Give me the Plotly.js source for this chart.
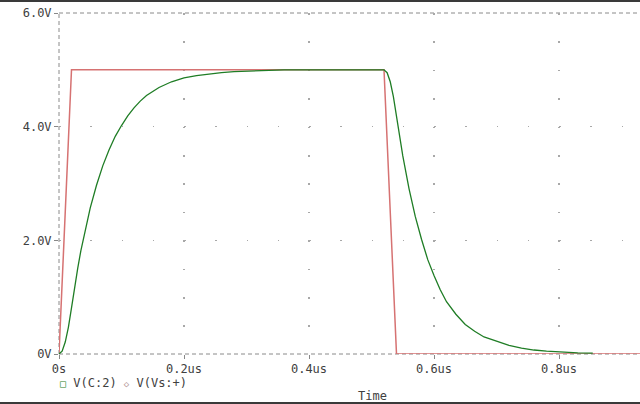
<!DOCTYPE html>
<html>
<head>
<meta charset="utf-8">
<script src="https://cdn.plot.ly/plotly-3.0.1.min.js"></script>
<style>
  html, body { margin: 0; padding: 0; background: #fff; }
  #wrap { position: relative; width: 640px; height: 404px; overflow: hidden; }
  #chart { width: 640px; height: 404px; }
  .bar { position: absolute; left: 0; width: 640px; height: 2px; background: #3a3a3a; }
</style>
</head>
<body>
<div id="wrap">
  <div id="chart"></div>
  <div class="bar" style="top:0"></div>
  <div class="bar" style="top:402px"></div>
</div>
<script>
// Time in microseconds
var tCap = [0, 0.005, 0.01, 0.015, 0.02, 0.025, 0.03, 0.035, 0.04, 0.05, 0.06, 0.07, 0.08, 0.09, 0.10,
            0.11, 0.12, 0.13, 0.14, 0.15, 0.16, 0.18, 0.20, 0.22, 0.24, 0.26, 0.28, 0.32, 0.36, 0.40,
            0.52, 0.525, 0.53, 0.535, 0.54, 0.545, 0.55, 0.56, 0.57, 0.58, 0.59, 0.60, 0.61, 0.62,
            0.635, 0.65, 0.665, 0.68, 0.70, 0.72, 0.74, 0.76, 0.78, 0.80, 0.83, 0.854];
var vCap = [0, 0.05, 0.21, 0.47, 0.81, 1.18, 1.51, 1.82, 2.09, 2.57, 2.97, 3.31, 3.59, 3.83, 4.02,
            4.19, 4.33, 4.45, 4.55, 4.62, 4.69, 4.79, 4.86, 4.90, 4.93, 4.95, 4.97, 4.99, 5.0, 5.0,
            5.0, 4.95, 4.79, 4.53, 4.19, 3.83, 3.49, 2.91, 2.42, 2.02, 1.66, 1.38, 1.13, 0.92,
            0.70, 0.52, 0.40, 0.30, 0.22, 0.15, 0.105, 0.07, 0.05, 0.035, 0.02, 0.014];

var tSrc = [0, 0.02, 0.52, 0.54, 1.0];
var vSrc = [0, 5, 5, 0, 0];

var xTickVals = [0, 0.2, 0.4, 0.6, 0.8];
var xTickText = ["0s", "0.2us", "0.4us", "0.6us", "0.8us"];
var yTickVals = [0, 2, 4, 6];
var yTickText = ["0V", "2.0V", "4.0V", "6.0V"];

var legendNames = ["V(C:2)", "V(Vs:+)"];
var xTitle = "Time";

var red = "#d67272";
var green = "#1f7d25";
var font = "DejaVu Sans Mono, Liberation Mono, monospace";
var txt = "#404040";

var traces = [
  { x: tSrc, y: vSrc, mode: "lines", line: { color: red, width: 1.5 }, name: legendNames[1], showlegend: false, hoverinfo: "skip" },
  { x: tCap, y: vCap, mode: "lines", line: { color: green, width: 1.3 }, name: legendNames[0], showlegend: false, hoverinfo: "skip" }
];

var dashAxis = { color: "#8a8a8a", width: 1, dash: "4px,3px" };

var layout = {
  width: 640, height: 404,
  margin: { l: 59, r: 0, t: 13, b: 50 },
  paper_bgcolor: "#fff", plot_bgcolor: "#fff",
  font: { family: font, size: 12, color: txt },
  xaxis: {
    range: [0, 0.9296],
    tickvals: xTickVals, ticktext: xTickText,
    ticks: "outside", ticklen: 4, tickcolor: "#888", tickwidth: 1,
    showline: false, zeroline: false,
    showgrid: true, gridcolor: "#a8a8a8", gridwidth: 1.5, griddash: "1.5px,26.9px",
    tickfont: { family: font, size: 12, color: txt }
  },
  yaxis: {
    range: [0, 6],
    tickvals: yTickVals, ticktext: yTickText,
    ticks: "outside", ticklen: 4, tickcolor: "#888", tickwidth: 1,
    showline: false, zeroline: false,
    showgrid: true, gridcolor: "#a8a8a8", gridwidth: 1.5, griddash: "1.5px,29.75px",
    tickfont: { family: font, size: 12, color: txt }
  },
  shapes: [
    { type: "line", xref: "paper", yref: "paper", x0: 0, x1: 0, y0: 0, y1: 1, line: dashAxis, layer: "below" },
    { type: "line", xref: "paper", yref: "paper", x0: 0, x1: 1, y0: 0, y1: 0, line: dashAxis, layer: "below" },
    { type: "line", xref: "paper", yref: "paper", x0: 0, x1: 1, y0: 1, y1: 1, line: dashAxis, layer: "below" }
  ],
  annotations: [
    { xref: "paper", yref: "paper", x: (372 - 59) / 581, y: (354 - 396) / 341, xanchor: "center", yanchor: "middle",
      text: xTitle, showarrow: false, font: { family: font, size: 12, color: txt } },
    { xref: "paper", yref: "paper", x: (58 - 59) / 581, y: (354 - 383) / 341, xanchor: "left", yanchor: "middle",
      text: '<span style="color:' + green + ';font-size:10px">□</span> ' + legendNames[0] +
            ' <span style="color:#b09090;font-size:9px">◇</span> ' + legendNames[1],
      showarrow: false, font: { family: font, size: 12, color: txt } }
  ],
  showlegend: false
};

Plotly.newPlot("chart", traces, layout, { staticPlot: true, displayModeBar: false });
</script>
</body>
</html>
